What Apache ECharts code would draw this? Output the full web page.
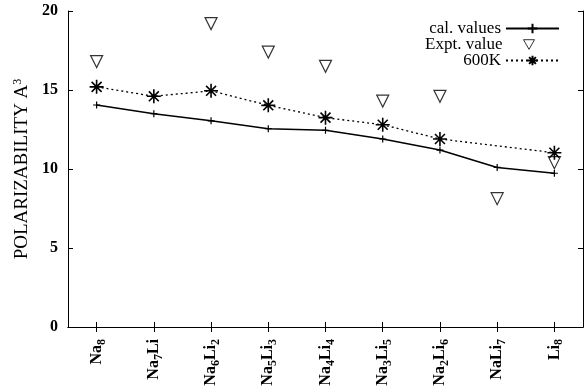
<!DOCTYPE html>
<html>
<head>
<meta charset="utf-8">
<script src="https://cdn.jsdelivr.net/npm/echarts@6/dist/echarts.min.js"></script>
<style>
  html, body { margin: 0; padding: 0; background: #fff; }
  #chart { width: 584px; height: 392px; }
</style>
</head>
<body>
<div id="chart"></div>
<script>
// clusters (digits become subscripts)
const clusters = ['Na8', 'Na7Li', 'Na6Li2', 'Na5Li3', 'Na4Li4', 'Na3Li5', 'Na2Li6', 'NaLi7', 'Li8'];
const calValues = [14.05, 13.5, 13.05, 12.55, 12.45, 11.9, 11.2, 10.1, 9.73];
const exptValues = [16.8, null, 19.2, 17.4, 16.5, 14.3, 14.6, 8.12, 10.4];
const values600K = [15.2, 14.6, 14.95, 14.03, 13.25, 12.8, 11.9, null, 11.03];
const yTicks = [0, 5, 10, 15, 20];

const serif = "'Liberation Serif', 'Times New Roman', serif";
const chart = echarts.init(document.getElementById('chart'), null, { renderer: 'canvas' });

const plusPath = 'path://M0,-1L0,1M-1,0L1,0';
const starPath = 'path://M0,-1L0,1M-1,0L1,0M-0.71,-0.71L0.71,0.71M-0.71,0.71L0.71,-0.71';
const downTriangle = 'path://M0,0L2,0L1,1.75Z';

function subLabel(v) {
    return v.replace(/([A-Za-z]+)|(\d)/g, function (m, word, digit) {
        return word ? '{n|' + word + '}' : '{s|' + digit + '}';
    });
}

const axisLine = { show: true, lineStyle: { color: '#000', width: 1 } };
const tickIn = { show: true, inside: true, length: 5, lineStyle: { color: '#000', width: 1 } };
const legendText = { fontFamily: serif, fontSize: 17, color: '#000' };

const option = {
    animation: false,
    backgroundColor: '#fff',
    grid: { left: 68, right: 1, top: 11, bottom: 65 },
    legend: [
        {
            top: 15, right: 19, align: 'right',
            itemWidth: 53, itemHeight: 12,
            textStyle: legendText,
            data: ['cal. values']
        },
        {
            top: 31, right: 44, align: 'right',
            itemWidth: 11, itemHeight: 10,
            textStyle: Object.assign({ padding: [0, 16, 0, 0] }, legendText),
            data: [{ name: 'Expt. value', icon: downTriangle, itemStyle: { borderWidth: 1 } }]
        },
        {
            top: 47, right: 19, align: 'right',
            itemWidth: 53, itemHeight: 12,
            textStyle: legendText,
            data: ['600K']
        }
    ],
    xAxis: [
        {
            type: 'category',
            data: clusters,
            boundaryGap: true,
            axisLine: axisLine,
            axisTick: Object.assign({ alignWithLabel: true }, tickIn),
            splitLine: { show: false },
            axisLabel: {
                rotate: 90,
                margin: 12,
                interval: 0,
                formatter: subLabel,
                rich: {
                    n: { fontFamily: serif, fontSize: 16, fontWeight: 'bold', color: '#000', lineHeight: 22, verticalAlign: 'middle' },
                    s: { fontFamily: serif, fontSize: 12, fontWeight: 'bold', color: '#000', lineHeight: 12, verticalAlign: 'bottom' }
                }
            }
        },
        {
            type: 'category',
            data: clusters,
            position: 'top',
            boundaryGap: true,
            axisLine: axisLine,
            axisTick: Object.assign({ alignWithLabel: true }, tickIn),
            axisLabel: { show: false }
        }
    ],
    yAxis: [
        {
            type: 'value',
            min: yTicks[0],
            max: yTicks[yTicks.length - 1],
            interval: 5,
            axisLine: axisLine,
            axisTick: tickIn,
            splitLine: { show: false },
            axisLabel: { fontFamily: serif, fontSize: 16, fontWeight: 'bold', color: '#000', margin: 10 },
            name: '{a|POLARIZABILITY A}{sup|3}',
            nameLocation: 'middle',
            nameGap: 30,
            nameTextStyle: {
                rich: {
                    a: { fontFamily: serif, fontSize: 19, color: '#000', lineHeight: 20, verticalAlign: 'middle' },
                    sup: { fontFamily: serif, fontSize: 12, color: '#000', lineHeight: 12, verticalAlign: 'top' }
                }
            }
        },
        {
            type: 'value',
            position: 'right',
            min: yTicks[0],
            max: yTicks[yTicks.length - 1],
            interval: 5,
            axisLine: axisLine,
            axisTick: tickIn,
            splitLine: { show: false },
            axisLabel: { show: false }
        }
    ],
    series: [
        {
            name: 'cal. values',
            type: 'line',
            data: calValues,
            symbol: plusPath,
            symbolSize: 7,
            lineStyle: { color: '#000', width: 1.5, type: 'solid' },
            itemStyle: { color: '#000', borderColor: '#000', borderWidth: 1.2 },
            z: 3
        },
        {
            name: 'Expt. value',
            type: 'scatter',
            data: exptValues,
            symbol: 'triangle',
            symbolRotate: 180,
            symbolSize: 12,
            itemStyle: { color: '#fff', borderColor: '#000', borderWidth: 1.2 },
            z: 2
        },
        {
            name: '600K',
            type: 'line',
            data: values600K,
            connectNulls: true,
            symbol: starPath,
            symbolSize: 14,
            lineStyle: { color: '#000', width: 1.3, type: [2, 3] },
            itemStyle: { color: '#000', borderColor: '#000', borderWidth: 1.6 },
            z: 4
        }
    ]
};

chart.setOption(option);
</script>
</body>
</html>
